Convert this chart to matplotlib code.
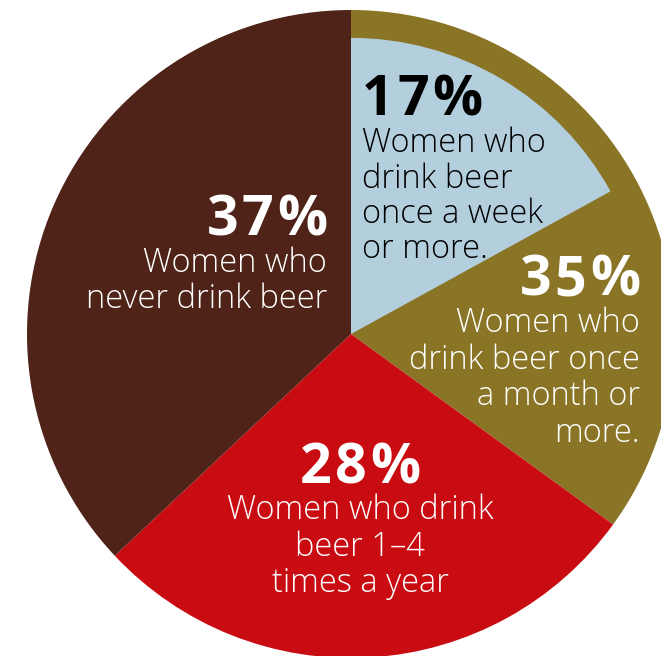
import matplotlib
matplotlib.use("Agg")
import matplotlib.pyplot as plt

# Data
categories = ["once a month or more", "1-4 times a year", "never"]
shares = [35, 28, 37]
weekly_share = 17
colors = ["#8A7425", "#C80C12", "#4F2317"]
weekly_color = "#B3CFDE"

W, H = 661, 656
fig = plt.figure(figsize=(W / 100, H / 100), dpi=100)
ax = fig.add_axes([0, 0, 1, 1])

cx, cy, R = 351, 656 - 334, 324
ax.pie(shares, colors=colors, startangle=90, counterclock=False,
       center=(cx, cy), radius=R, frame=True,
       wedgeprops=dict(linewidth=0))
ax.pie([weekly_share, 100 - weekly_share], colors=[weekly_color, "none"],
       startangle=90, counterclock=False, center=(cx, cy), radius=R * 0.914,
       frame=True, wedgeprops=dict(linewidth=0))
ax.set_xlim(0, W)
ax.set_ylim(0, H)
ax.set_aspect("equal")
ax.axis("off")

FONT = "Open Sans"
big = dict(family=FONT, fontsize=40, fontweight="bold")
body = dict(family=FONT, fontsize=23.5, fontweight="light")
renderer = fig.canvas.get_renderer()
TRACK = 3.5  # pixels of extra letter spacing

def tracked(x, y, s, ha, color):
    widths = []
    for ch in s:
        t = ax.text(0, 0, ch, **big)
        widths.append(t.get_window_extent(renderer).width)
        t.remove()
    total = sum(widths) + TRACK * (len(s) - 1)
    if ha == "right":
        x0 = x - total
    elif ha == "center":
        x0 = x - total / 2
    else:
        x0 = x
    for ch, w in zip(s, widths):
        ax.text(x0, y, ch, ha="left", va="baseline", color=color, **big)
        x0 += w + TRACK

def block(x, y_pct, pct, lines, ys, ha, color):
    tracked(x, H - y_pct, pct, ha, color)
    for ln, yy in zip(lines, ys):
        ax.text(x, H - yy, ln, ha=ha, va="baseline", color=color, **body)

block(362, 115, f"{weekly_share}%", ["Women who", "drink beer", "once a week", "or more."],
      [152, 188, 223, 258], "left", "black")
block(327, 235, f"{shares[2]}%", ["Women who", "never drink beer"], [272, 308], "right", "white")
block(640, 295, f"{shares[0]}%", ["Women who", "drink beer once", "a month or", "more."],
      [332, 369, 405, 442], "right", "white")
block(360, 483, f"{shares[1]}%", ["Women who drink", "beer 1–4", "times a year"],
      [519, 556, 592], "center", "white")

fig.savefig("out.png", dpi=100)
